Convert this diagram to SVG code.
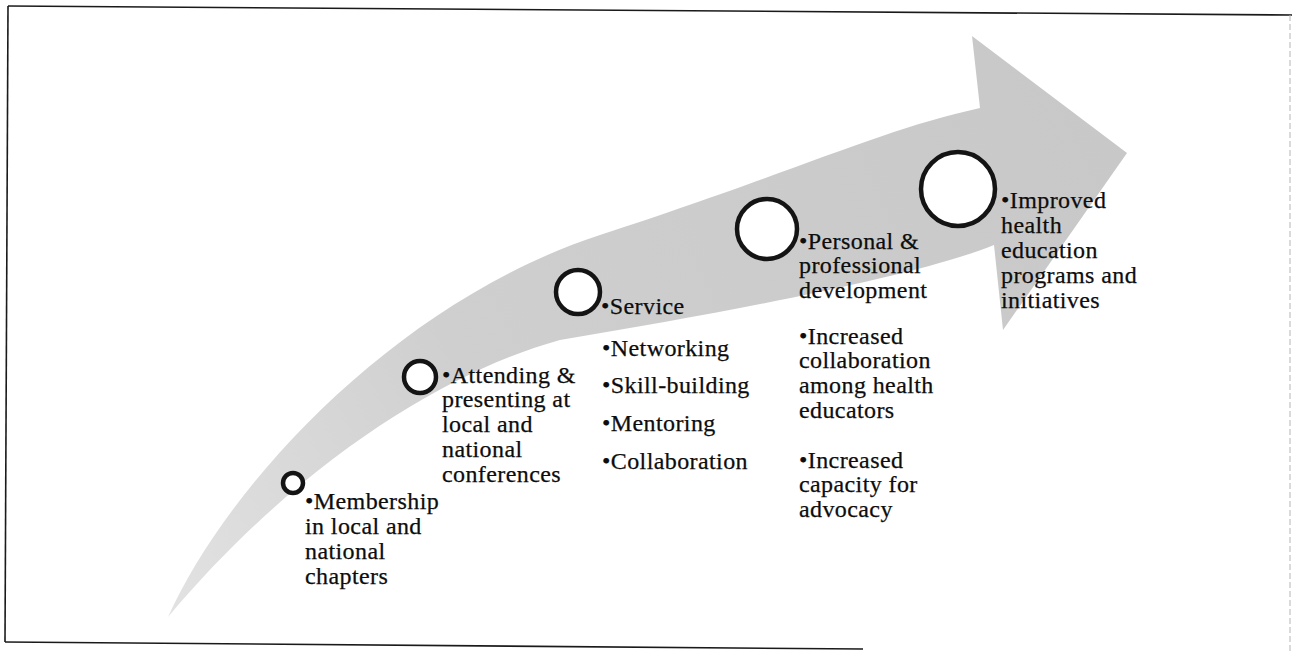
<svg xmlns="http://www.w3.org/2000/svg" width="1292" height="651" viewBox="0 0 1292 651">
  <defs>
    <linearGradient id="arrowFill" x1="168" y1="617" x2="1127" y2="153" gradientUnits="userSpaceOnUse">
      <stop offset="0" stop-color="#e2e2e2"/>
      <stop offset="0.35" stop-color="#cfcfcf"/>
      <stop offset="1" stop-color="#c8c8c8"/>
    </linearGradient>
    <style>
      .frame { fill: none; stroke: #1a1a1a; stroke-width: 1.6; }
      .frame-faint { fill: none; stroke: #b5b5b5; stroke-width: 1; stroke-dasharray: 6 3; }
      .ring { fill: #ffffff; stroke: #141414; stroke-width: 4.5; }
      .label { font-family: "Liberation Serif", "Times New Roman", serif; font-size: 24px; letter-spacing: 0.4px; fill: #0d0d0d; stroke: #0d0d0d; stroke-width: 0.25; }
    </style>
  </defs>

  <rect width="1292" height="651" fill="#ffffff"/>

  <!-- page frame -->
  <g id="frame">
    <path class="frame" d="M8,6 L1292,15"/>
    <path class="frame" d="M8,6 L5,642"/>
    <path class="frame" d="M5,642 L863,649"/>
    <path class="frame-faint" d="M1290,15 L1290,651"/>
  </g>

  <!-- sweeping progress arrow -->
  <g id="connectors">
    <path id="progress-arrow" fill="url(#arrowFill)" d="M168,617 C230,480 400,300 600,235 S880,130 980,108 L972,36 L1127,153 L1003,330 L994,245 C920,275 740,310 560,340 C450,370 300,460 168,617 Z"/>
  </g>

  <!-- stage 1 -->
  <g id="stage-membership">
    <circle class="ring" cx="293" cy="483" r="10"/>
    <text class="label">
      <tspan x="305" y="509">•Membership</tspan>
      <tspan x="305" y="534">in local and</tspan>
      <tspan x="305" y="559">national</tspan>
      <tspan x="305" y="584">chapters</tspan>
    </text>
  </g>

  <!-- stage 2 -->
  <g id="stage-conferences">
    <circle class="ring" cx="420" cy="377" r="16"/>
    <text class="label">
      <tspan x="442" y="383">•Attending &amp;</tspan>
      <tspan x="442" y="407">presenting at</tspan>
      <tspan x="442" y="432">local and</tspan>
      <tspan x="442" y="457">national</tspan>
      <tspan x="442" y="482">conferences</tspan>
    </text>
  </g>

  <!-- stage 3 -->
  <g id="stage-service">
    <circle class="ring" cx="578" cy="292" r="22"/>
    <text class="label">
      <tspan x="601" y="314">•Service</tspan>
      <tspan x="602" y="356">•Networking</tspan>
      <tspan x="602" y="393">•Skill-building</tspan>
      <tspan x="602" y="431">•Mentoring</tspan>
      <tspan x="602" y="469">•Collaboration</tspan>
    </text>
  </g>

  <!-- stage 4 -->
  <g id="stage-development">
    <circle class="ring" cx="767" cy="229" r="30"/>
    <text class="label">
      <tspan x="799" y="249">•Personal &amp;</tspan>
      <tspan x="799" y="273">professional</tspan>
      <tspan x="799" y="298">development</tspan>
      <tspan x="799" y="344">•Increased</tspan>
      <tspan x="799" y="368">collaboration</tspan>
      <tspan x="799" y="393">among health</tspan>
      <tspan x="799" y="418">educators</tspan>
      <tspan x="799" y="468">•Increased</tspan>
      <tspan x="799" y="492">capacity for</tspan>
      <tspan x="799" y="517">advocacy</tspan>
    </text>
  </g>

  <!-- stage 5 -->
  <g id="stage-outcomes">
    <circle class="ring" cx="958" cy="189" r="37"/>
    <text class="label">
      <tspan x="1001" y="208">•Improved</tspan>
      <tspan x="1001" y="233">health</tspan>
      <tspan x="1001" y="258">education</tspan>
      <tspan x="1001" y="283">programs and</tspan>
      <tspan x="1001" y="308">initiatives</tspan>
    </text>
  </g>
</svg>
